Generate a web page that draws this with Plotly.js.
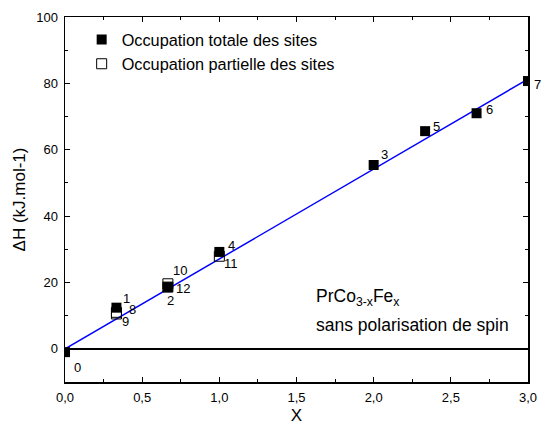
<!DOCTYPE html>
<html>
<head>
<meta charset="utf-8">
<script src="https://cdn.plot.ly/plotly-3.0.1.min.js"></script>
<style>html,body{margin:0;padding:0;background:#fff}#chart{width:541px;height:425px}</style>
</head>
<body>
<div id="chart"></div>
<script>
// Data
var totalX = [0, 0.3333, 0.6667, 2.0, 1.0, 2.3333, 2.6667, 3.0];
var totalY = [-1.0, 12.4, 18.6, 55.4, 29.2, 65.6, 71.0, 80.7];
var totalLabels = ["0", "1", "2", "3", "4", "5", "6", "7"];

var partialX = [0.3333, 0.3333, 0.6667, 1.0, 0.6667];
var partialY = [11.0, 10.5, 19.6, 27.9, 18.6];
var partialLabels = ["8", "9", "10", "11", "12"];

var fitX = [-0.01, 3.0];
var fitY = [-0.3, 81.3];

var xTickVals = [0, 0.5, 1.0, 1.5, 2.0, 2.5, 3.0];
var yTickVals = [0, 20, 40, 60, 80, 100];

// label offsets (px) — styling only
var totalOff = [[12,-15],[10,9],[3,-13],[11,10],[12,6],[11,5],[13,4],[9,-3]];
var partialOff = [[16,3],[9,-8],[12,13],[12,-7],[15,-1]];

var font = "Liberation Sans, Arial, sans-serif";

var traces = [
  {x: fitX, y: fitY, mode: 'lines', line: {color: '#0000ff', width: 1.5}, showlegend: false, hoverinfo: 'skip'},
  {x: partialX, y: partialY, mode: 'markers', name: 'Occupation partielle des sites',
   marker: {symbol: 'square-open', size: 10, color: '#000', line: {width: 1, color: '#000'}}},
  {x: totalX, y: totalY, mode: 'markers', name: 'Occupation totale des sites',
   marker: {symbol: 'square', size: 10, color: '#000'}}
];

var ann = [];
function addLabels(xs, ys, ts, offs) {
  for (var i = 0; i < xs.length; i++) {
    ann.push({x: xs[i], y: ys[i], text: ts[i], showarrow: false, xref: 'x', yref: 'y',
      xshift: offs[i][0], yshift: offs[i][1], font: {family: font, size: 13, color: '#000'}});
  }
}
addLabels(totalX, totalY, totalLabels, totalOff);
addLabels(partialX, partialY, partialLabels, partialOff);
ann.push({xref: 'paper', yref: 'paper', x: 0.537, y: 0.232, xanchor: 'left', yanchor: 'middle',
  text: 'PrCo<sub>3-x</sub>Fe<sub>x</sub>', showarrow: false, font: {family: font, size: 17.5, color: '#000'}});
ann.push({xref: 'paper', yref: 'paper', x: 0.537, y: 0.156, xanchor: 'left', yanchor: 'middle',
  text: 'sans polarisation de spin', showarrow: false, font: {family: font, size: 17.5, color: '#000'}});

var layout = {
  width: 541, height: 425,
  margin: {l: 65, r: 13, t: 17, b: 43},
  paper_bgcolor: '#fff', plot_bgcolor: '#fff',
  separators: ', ',
  font: {family: font, size: 13, color: '#000'},
  showlegend: true,
  legend: {x: 0.036, y: 0.985, xanchor: 'left', yanchor: 'top', bgcolor: 'rgba(0,0,0,0)',
    traceorder: 'reversed', font: {family: font, size: 16.3, color: '#000'}, itemwidth: 30},
  xaxis: {range: [0, 3.0], tickvals: xTickVals, tickformat: '.1f', showgrid: false, zeroline: false,
    showline: true, linecolor: '#000', linewidth: 1.5, mirror: 'ticks', ticks: 'inside', ticklen: 5,
    tickcolor: '#000', tickwidth: 1, ticklabelstandoff: 3,
    minor: {dtick: 0.25, ticks: 'inside', ticklen: 3, tickcolor: '#000'},
    title: {text: 'X', font: {family: font, size: 17}, standoff: 12}},
  yaxis: {range: [-10, 100], tickvals: yTickVals, showgrid: false, zeroline: true, zerolinecolor: '#000',
    zerolinewidth: 1.5, showline: true, linecolor: '#000', linewidth: 1.5, mirror: 'ticks',
    ticks: 'inside', ticklen: 5, tickcolor: '#000', tickwidth: 1, ticklabelstandoff: 3,
    minor: {dtick: 10, ticks: 'inside', ticklen: 3, tickcolor: '#000'},
    title: {text: 'ΔH (kJ.mol-1)', font: {family: font, size: 17}, standoff: 6}},
  annotations: ann
};

Plotly.newPlot('chart', traces, layout, {staticPlot: true, displayModeBar: false});
</script>
</body>
</html>
